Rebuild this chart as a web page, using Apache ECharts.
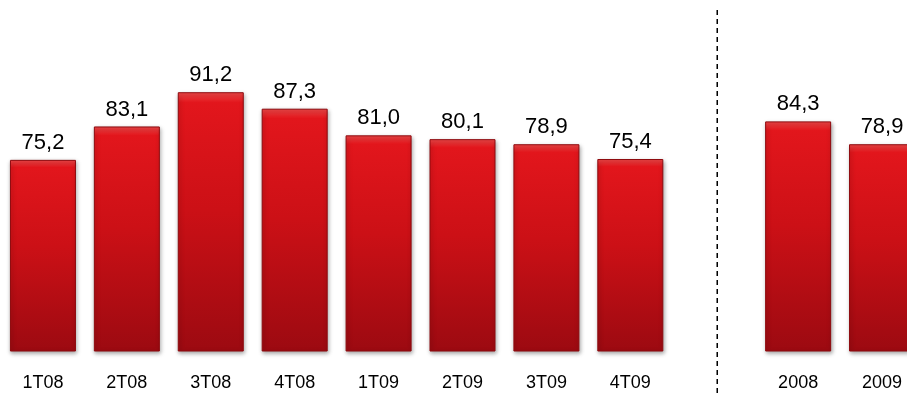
<!DOCTYPE html>
<html>
<head>
<meta charset="utf-8">
<script src="https://cdn.jsdelivr.net/npm/echarts@6/dist/echarts.min.js"></script>
<style>
html,body{margin:0;padding:0;background:#fff;}
#c{width:907px;height:394px;}
</style>
</head>
<body>
<div id="c"></div>
<script>
const categories = ['1T08','2T08','3T08','4T08','1T09','2T09','3T09','4T09','','2008','2009'];
const values = [75.2, 83.1, 91.2, 87.3, 81.0, 80.1, 78.9, 75.4, null, 84.3, 78.9];
const separatorIndex = 8;

const chart = echarts.init(document.getElementById('c'), null, {renderer: 'canvas'});
const fmt = v => v.toFixed(1).replace('.', ',');

chart.setOption({
  animation: false,
  backgroundColor: '#ffffff',
  grid: [
    {left: 1, width: 923, top: 55, bottom: 43, containLabel: false, outerBoundsMode: 'none'},
    {left: 4, width: 923, top: 7, bottom: 1, containLabel: false, outerBoundsMode: 'none'}
  ],
  xAxis: [
    {
      type: 'category', gridIndex: 0, data: categories,
      axisLine: {show: false}, axisTick: {show: false},
      axisLabel: {color: '#000', fontFamily: 'Liberation Sans, Arial, sans-serif', fontSize: 18, margin: 23, interval: 0}
    },
    {
      type: 'category', gridIndex: 1, data: categories, show: false
    }
  ],
  yAxis: [
    {type: 'value', gridIndex: 0, min: 30, max: 100, show: false, splitLine: {show: false}},
    {type: 'value', gridIndex: 1, min: 0, max: 1, show: false, splitLine: {show: false}}
  ],
  series: [
    {
      type: 'bar', xAxisIndex: 0, yAxisIndex: 0,
      data: values,
      barWidth: 66,
      itemStyle: {
        color: new echarts.graphic.LinearGradient(0, 0, 0, 1, [
          {offset: 0, color: '#f04848'},
          {offset: 0.04, color: '#e2161c'},
          {offset: 0.45, color: '#cc1016'},
          {offset: 1, color: '#9c0a11'}
        ]),
        borderColor: '#8e0a0e',
        borderWidth: 1,
        shadowColor: 'rgba(0,0,0,0.35)',
        shadowBlur: 4,
        shadowOffsetX: 1,
        shadowOffsetY: 2
      },
      label: {
        show: true, position: 'top', distance: 6,
        color: '#000', fontFamily: 'Liberation Sans, Arial, sans-serif', fontSize: 22,
        formatter: p => p.value == null ? '' : fmt(p.value)
      }
    },
    {
      type: 'line', xAxisIndex: 1, yAxisIndex: 1,
      data: [[separatorIndex, 0], [separatorIndex, 1]],
      symbol: 'none', silent: true,
      lineStyle: {color: '#000', width: 1.5, type: [5, 4]}
    }
  ]
});
</script>
</body>
</html>
